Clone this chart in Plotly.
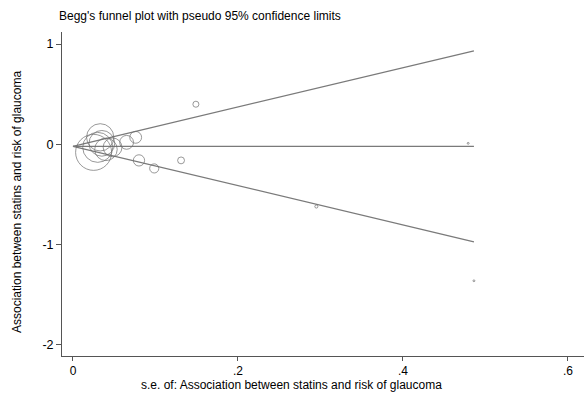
import plotly.graph_objects as go

# Study-level standard errors and effect estimates (log scale)
se = [0.025, 0.030, 0.033, 0.035, 0.040, 0.048,
      0.065, 0.076, 0.080, 0.0985, 0.131, 0.149,
      0.295, 0.479, 0.486]
effect = [-0.08, -0.03, 0.07, 0.01, -0.05, -0.03,
          0.02, 0.07, -0.16, -0.24, -0.16, 0.40,
          -0.62, 0.01, -1.36]

pooled = -0.02          # fixed-effect pooled estimate
z95 = 1.96
se_max = max(se)

xtick_vals = [0, 0.2, 0.4, 0.6]
xtick_text = ["0", ".2", ".4", ".6"]
ytick_vals = [-2, -1, 0, 1]
ytick_text = ["-2", "-1", "0", "1"]

FONT = "Liberation Sans, Arial, sans-serif"
FS = 12
LINE_COL = "#7a7a7a"
MARK_COL = "#6e6e6e"

fig = go.Figure()

# Pseudo 95% confidence limits and pooled estimate
fig.add_trace(go.Scatter(x=[0, se_max], y=[pooled, pooled], mode="lines",
                         line=dict(color=LINE_COL, width=1.2), hoverinfo="skip"))
fig.add_trace(go.Scatter(x=[0, se_max], y=[pooled, pooled + z95 * se_max], mode="lines",
                         line=dict(color=LINE_COL, width=1.2), hoverinfo="skip"))
fig.add_trace(go.Scatter(x=[0, se_max], y=[pooled, pooled - z95 * se_max], mode="lines",
                         line=dict(color=LINE_COL, width=1.2), hoverinfo="skip"))

# Studies, marker size proportional to precision
sizes = [0.9 / s for s in se]
fig.add_trace(go.Scatter(x=se, y=effect, mode="markers",
                         marker=dict(symbol="circle-open", size=sizes, color=MARK_COL,
                                     line=dict(width=1, color=MARK_COL))))

fig.update_layout(
    width=584, height=394,
    margin=dict(l=62, r=0, t=32, b=38),
    paper_bgcolor="white", plot_bgcolor="white",
    showlegend=False,
    font=dict(family=FONT, size=FS, color="black"),
    xaxis=dict(range=[-0.0133, 0.6194], tickvals=xtick_vals, ticktext=xtick_text,
               showgrid=False, zeroline=False, showline=True, linecolor="#555",
               linewidth=1, ticks="outside", ticklen=4, tickcolor="#555",
               tickfont=dict(family=FONT, size=FS, color="black")),
    yaxis=dict(range=[-2.11, 1.12], tickvals=ytick_vals, ticktext=ytick_text,
               showgrid=False, zeroline=False, showline=True, linecolor="#555",
               linewidth=1, ticks="outside", ticklen=5, tickcolor="#555",
               tickfont=dict(family=FONT, size=FS + 0.5, color="black")),
    annotations=[
        dict(text="Begg's funnel plot with pseudo 95% confidence limits",
             xref="paper", yref="paper", x=(57 - 62) / 522, y=(356 - 16) / 324,
             xanchor="left", yanchor="middle", showarrow=False,
             font=dict(family=FONT, size=FS, color="black")),
        dict(text="s.e. of: Association between statins and risk of glaucoma",
             xref="paper", yref="paper", x=(291 - 62) / 522, y=(356 - 394) / 324,
             xanchor="center", yanchor="bottom", showarrow=False,
             font=dict(family=FONT, size=FS, color="black")),
        dict(text="Association between statins and risk of glaucoma",
             xref="paper", yref="paper", x=(17 - 62) / 522, y=(356 - 202) / 324,
             xanchor="center", yanchor="middle", textangle=-90, showarrow=False,
             font=dict(family=FONT, size=FS, color="black")),
    ],
)

fig.write_html("out.html")
